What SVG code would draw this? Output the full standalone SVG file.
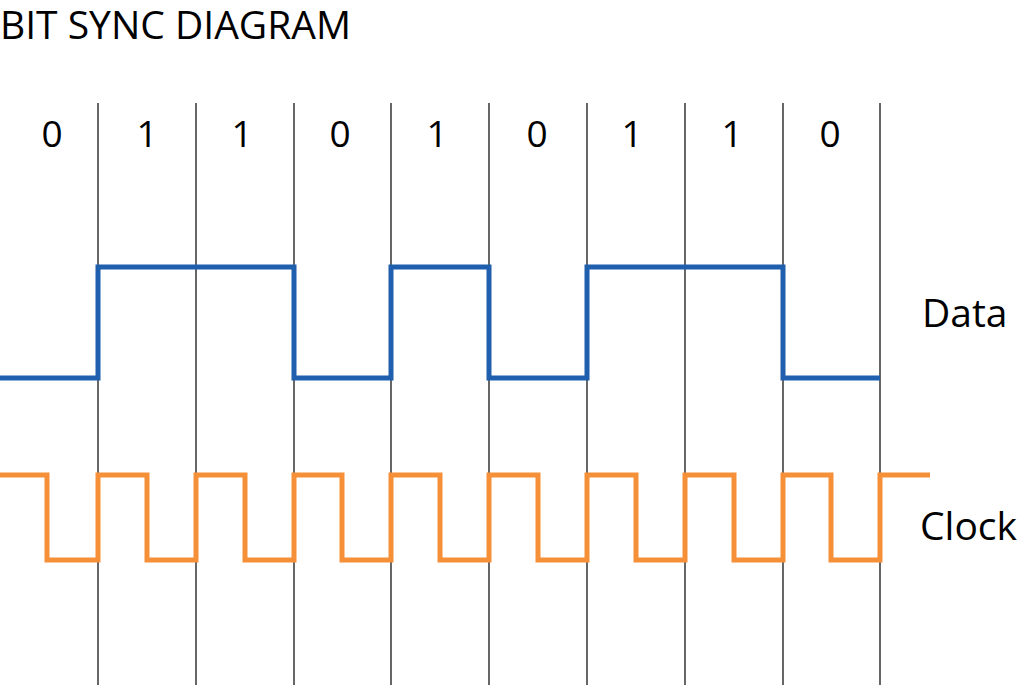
<svg xmlns="http://www.w3.org/2000/svg" width="1024" height="685" viewBox="0 0 1024 685">
<style>
text{font-family:"Open Sans","Liberation Sans",sans-serif;fill:#000}
.d{font-size:37px;text-anchor:middle}
.grid line{stroke:#000;stroke-width:1.2}
.sig{fill:none;stroke-width:5}
</style>
<rect width="1024" height="685" fill="#fff"/>
<text x="0" y="39" font-size="39">BIT SYNC DIAGRAM</text>
<g id="grid" class="grid">
<line x1="98" y1="103" x2="98" y2="685"/><line x1="196" y1="103" x2="196" y2="685"/>
<line x1="294" y1="103" x2="294" y2="685"/><line x1="391" y1="103" x2="391" y2="685"/>
<line x1="489" y1="103" x2="489" y2="685"/><line x1="587" y1="103" x2="587" y2="685"/>
<line x1="685" y1="103" x2="685" y2="685"/><line x1="783" y1="103" x2="783" y2="685"/>
<line x1="880" y1="103" x2="880" y2="685"/>
</g>
<g id="bits">
<text class="d" x="52" y="147">0</text><text class="d" x="147" y="147">1</text>
<text class="d" x="242" y="147">1</text><text class="d" x="340" y="147">0</text>
<text class="d" x="437" y="147">1</text><text class="d" x="537" y="147">0</text>
<text class="d" x="632" y="147">1</text><text class="d" x="732" y="147">1</text>
<text class="d" x="830" y="147">0</text>
</g>
<g id="data">
<path class="sig" stroke="#1f5fad" d="M0 378H98V267H294V378H391V267H489V378H587V267H783V378H880"/>
<text x="922" y="327" font-size="39">Data</text>
</g>
<g id="clock">
<path class="sig" stroke="#f58f38" d="M0 475H47V560H98V475H147V560H196V475H245V560H294V475H342V560H391V475H440V560H489V475H538V560H587V475H636V560H685V475H734V560H783V475H831V560H880V475H930"/>
<text x="920" y="540" font-size="39">Clock</text>
</g>
</svg>
